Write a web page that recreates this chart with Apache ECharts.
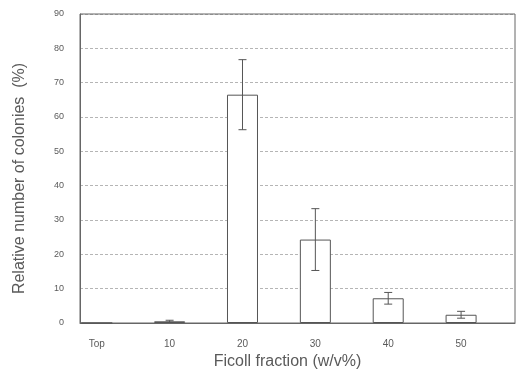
<!DOCTYPE html>
<html><head><meta charset="utf-8">
<script src="https://cdn.jsdelivr.net/npm/echarts@6/dist/echarts.min.js"></script>
<style>html,body{margin:0;padding:0;background:#fff}#c{width:517px;height:372px}</style>
</head><body><div id="c"></div>
<script>
const fractions = [0, 10, 20, 30, 40, 50];
const fractionLabels = ['Top', '10', '20', '30', '40', '50'];
const meanValues = [0, 0.5, 66.5, 24.3, 7.2, 2.4];
const errorValues = [0, 0.3, 10.2, 9.0, 1.7, 1.0];

const chart = echarts.init(document.getElementById('c'));
const txt = '#5a5a5a';
const line = '#666';
chart.setOption({
  animation: false,
  grid: { left: 80, right: 2, top: 14, bottom: 49, outerBoundsMode: 'none' },
  xAxis: {
    type: 'value', min: -2.3, max: 57.4,
    name: 'Ficoll fraction (w/v%)', nameLocation: 'middle', nameGap: 31,
    nameTextStyle: { color: txt, fontSize: 16, fontFamily: 'Liberation Sans', padding: [0, 20, 0, 0] },
    axisLine: { onZero: false, lineStyle: { color: line, width: 1 } },
    axisTick: { show: false },
    splitLine: { show: false },
    axisLabel: {
      customValues: fractions, color: txt, fontSize: 10, fontFamily: 'Liberation Sans', margin: 16,
      formatter: v => fractionLabels[fractions.indexOf(v)] ?? ''
    }
  },
  yAxis: {
    type: 'value', min: 0, max: 90, interval: 10,
    name: 'Relative number of colonies  (%)', nameLocation: 'middle', nameGap: 52,
    nameTextStyle: { color: txt, fontSize: 16, fontFamily: 'Liberation Sans', padding: [0, 20, 0, 0] },
    axisLine: { show: true, onZero: false, lineStyle: { color: line, width: 1 } },
    axisTick: { show: false },
    axisLabel: { color: txt, fontSize: 9, fontFamily: 'Liberation Sans', margin: 16 },
    splitLine: { show: true, lineStyle: { color: '#b5b5b5', type: [3, 2], width: 1 } }
  },
  series: [
    {
      type: 'bar', barWidth: 31,
      data: fractions.map((f, i) => [f, meanValues[i]]),
      itemStyle: { color: '#fff', borderColor: '#555', borderWidth: 1 }
    },
    {
      type: 'custom',
      data: fractions.map((f, i) => [f, meanValues[i], errorValues[i]]),
      renderItem: (params, api) => {
        const x = api.value(0), m = api.value(1), e = api.value(2);
        if (!e) return null;
        const top = api.coord([x, m + e]);
        const bot = api.coord([x, m - e]);
        const w = 4;
        const st = { stroke: '#555', lineWidth: 1 };
        return { type: 'group', children: [
          { type: 'line', shape: { x1: top[0], y1: top[1], x2: bot[0], y2: bot[1] }, style: st },
          { type: 'line', shape: { x1: top[0] - w, y1: top[1], x2: top[0] + w, y2: top[1] }, style: st },
          { type: 'line', shape: { x1: bot[0] - w, y1: bot[1], x2: bot[0] + w, y2: bot[1] }, style: st }
        ]};
      },
      z: 5
    }
  ]
});
const g = chart.getModel().getComponent('grid').coordinateSystem.getRect();
chart.setOption({ graphic: [{ type: 'rect', shape: { x: g.x, y: g.y, width: g.width, height: g.height }, style: { fill: null, stroke: line, lineWidth: 1 }, silent: true, z: 0 }] });
</script></body></html>
